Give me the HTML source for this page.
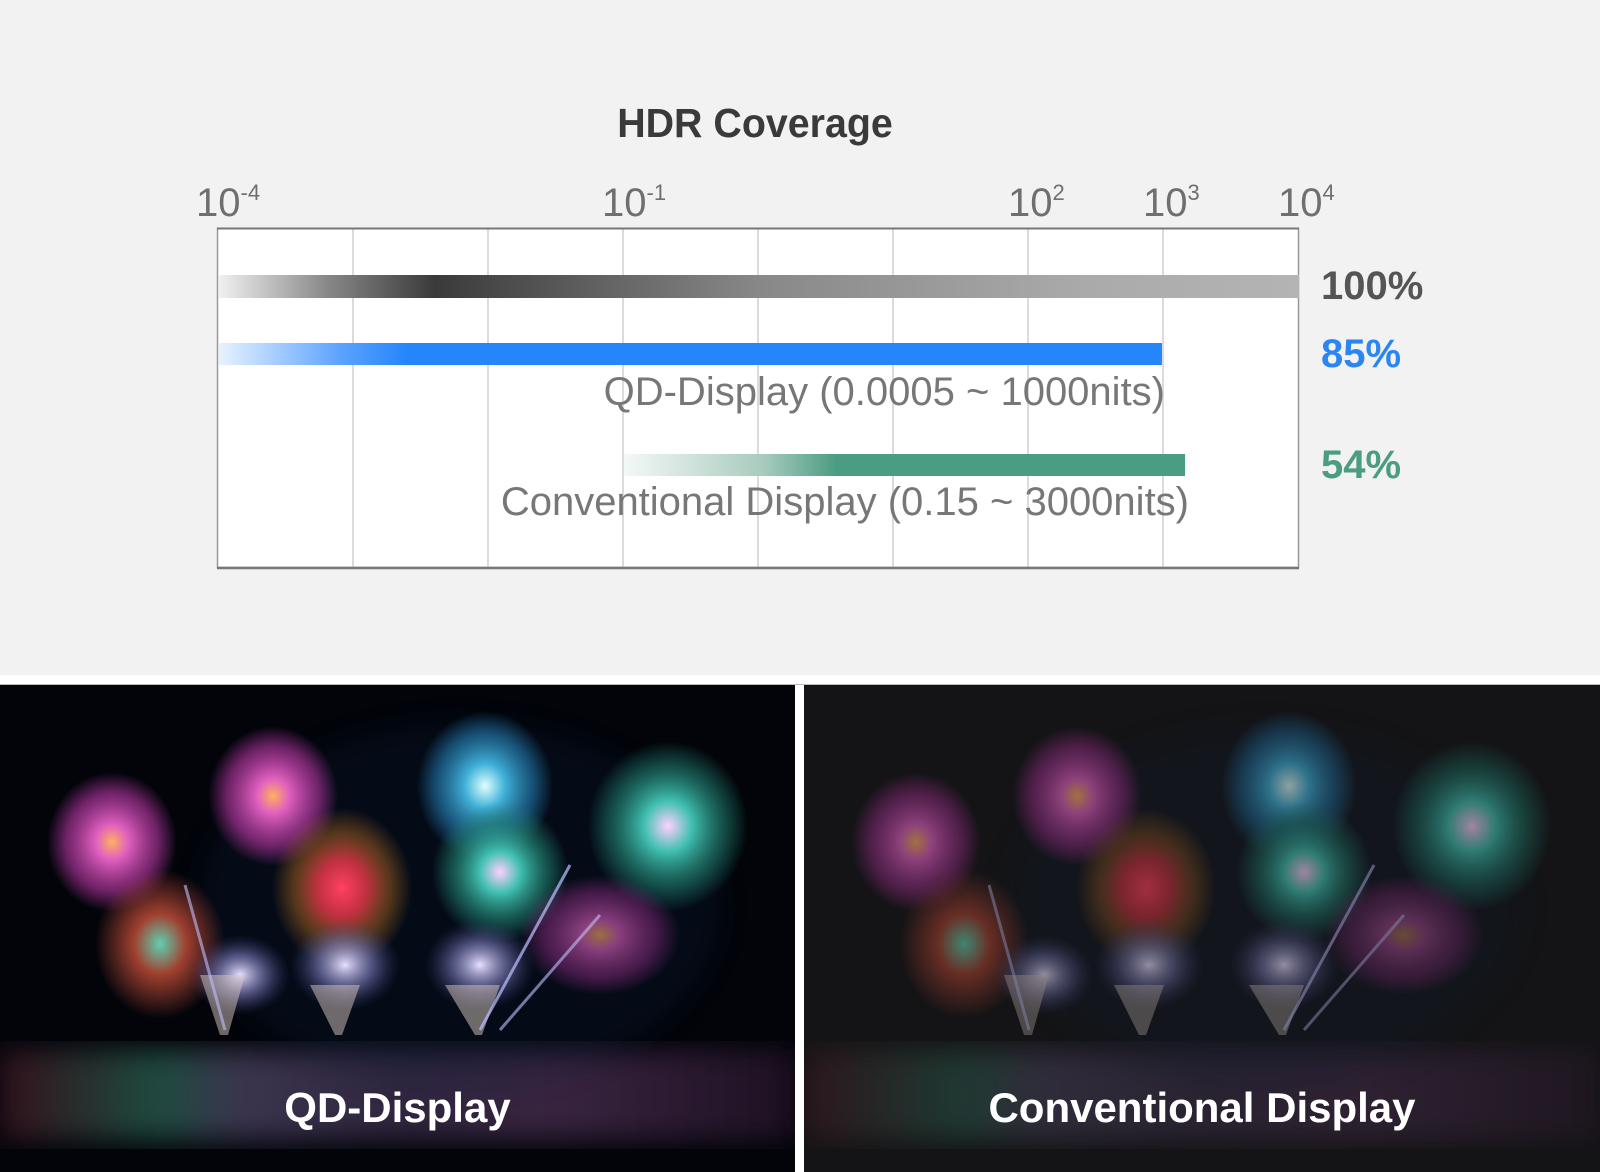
<!DOCTYPE html>
<html><head><meta charset="utf-8"><style>
html,body{margin:0;padding:0;}
body{width:1600px;height:1172px;background:#f2f2f2;position:relative;overflow:hidden;font-family:"Liberation Sans","DejaVu Sans",sans-serif;}
.t{position:absolute;white-space:nowrap;}
</style></head><body>
<div class="t" style="left:0;width:1510px;text-align:center;top:100px;font-size:41px;font-weight:bold;color:#3a3a3a;transform:scaleX(0.96);transform-origin:755px 0;">HDR Coverage</div>

<svg style="position:absolute;left:0;top:0" width="1600" height="680">
<defs>
<linearGradient id="gg" x1="0" x2="1"><stop offset="0" stop-color="#f0f0f0"/><stop offset="0.1" stop-color="#888"/><stop offset="0.2" stop-color="#3a3a3a"/><stop offset="0.5" stop-color="#888"/><stop offset="0.8" stop-color="#aaa"/><stop offset="1" stop-color="#b4b4b4"/></linearGradient>
<linearGradient id="bg" x1="0" x2="1"><stop offset="0" stop-color="#e8f2ff"/><stop offset="0.13" stop-color="#5aa2ff"/><stop offset="0.2" stop-color="#2585fb"/><stop offset="1" stop-color="#2585fb"/></linearGradient>
<linearGradient id="ng" x1="0" x2="1"><stop offset="0" stop-color="#f4f8f6"/><stop offset="0.25" stop-color="#a6cbbd"/><stop offset="0.38" stop-color="#4a9c82"/><stop offset="1" stop-color="#4a9c82"/></linearGradient>
</defs>
<rect x="218" y="229" width="1081" height="339" fill="#fff"/>
<g stroke="#cfcfcf" stroke-width="1.5">
<line x1="353" y1="229" x2="353" y2="567"/><line x1="488" y1="229" x2="488" y2="567"/><line x1="623" y1="229" x2="623" y2="567"/><line x1="758" y1="229" x2="758" y2="567"/><line x1="893" y1="229" x2="893" y2="567"/><line x1="1028" y1="229" x2="1028" y2="567"/><line x1="1163" y1="229" x2="1163" y2="567"/>
</g>
<rect x="217.5" y="228.5" width="1081" height="339" fill="none" stroke="#999" stroke-width="1.5"/>
<line x1="217" y1="228.5" x2="1299" y2="228.5" stroke="#777" stroke-width="2"/>
<line x1="217" y1="568" x2="1299" y2="568" stroke="#777" stroke-width="2.5"/>
<rect x="219" y="275" width="1080" height="23" fill="url(#gg)"/>
<rect x="219" y="343" width="943" height="22" fill="url(#bg)"/>
<rect x="624" y="454" width="561" height="22" fill="url(#ng)"/>
</svg>

<div class="t" style="left:196px;top:180px;font-size:40px;color:#6f6f6f;">10<sup style="font-size:22px;vertical-align:16px">-4</sup></div>
<div class="t" style="left:602px;top:180px;font-size:40px;color:#6f6f6f;">10<sup style="font-size:22px;vertical-align:16px">-1</sup></div>
<div class="t" style="left:1008px;top:180px;font-size:40px;color:#6f6f6f;">10<sup style="font-size:22px;vertical-align:16px">2</sup></div>
<div class="t" style="left:1143px;top:180px;font-size:40px;color:#6f6f6f;">10<sup style="font-size:22px;vertical-align:16px">3</sup></div>
<div class="t" style="left:1278px;top:180px;font-size:40px;color:#6f6f6f;">10<sup style="font-size:22px;vertical-align:16px">4</sup></div>

<div class="t" style="left:1321px;top:264px;font-size:40px;font-weight:bold;color:#555;">100%</div>
<div class="t" style="left:1321px;top:332px;font-size:40px;font-weight:bold;color:#2b86f2;">85%</div>
<div class="t" style="left:1321px;top:443px;font-size:40px;font-weight:bold;color:#4a9c82;">54%</div>

<div class="t" style="right:435px;top:370px;font-size:40px;color:#777;">QD-Display (0.0005 ~ 1000nits)</div>
<div class="t" style="right:411px;top:480px;font-size:40px;color:#777;">Conventional Display (0.15 ~ 3000nits)</div>

<div style="position:absolute;left:0;top:675px;width:1600px;height:10px;background:#fff;"></div>
<div style="position:absolute;left:0;top:684px;width:1600px;height:1px;background:#bbb;"></div>

<svg style="position:absolute;left:0;top:685px" width="1600" height="487">
<defs>
<filter id="bl"><feGaussianBlur stdDeviation="14"/></filter>
<radialGradient id="fp"><stop offset="0" stop-color="#ffb060"/><stop offset="0.25" stop-color="#e060c0"/><stop offset="0.7" stop-color="#a03090" stop-opacity="0.7"/><stop offset="1" stop-color="#a03090" stop-opacity="0"/></radialGradient>
<radialGradient id="fb"><stop offset="0" stop-color="#e0ffff"/><stop offset="0.3" stop-color="#40b0d8"/><stop offset="0.7" stop-color="#2070a0" stop-opacity="0.7"/><stop offset="1" stop-color="#2070a0" stop-opacity="0"/></radialGradient>
<radialGradient id="ft"><stop offset="0" stop-color="#ffd0ff"/><stop offset="0.3" stop-color="#40c0b0"/><stop offset="0.7" stop-color="#208070" stop-opacity="0.6"/><stop offset="1" stop-color="#208070" stop-opacity="0"/></radialGradient>
<radialGradient id="fr"><stop offset="0" stop-color="#ff4060"/><stop offset="0.35" stop-color="#c03040"/><stop offset="0.7" stop-color="#a06020" stop-opacity="0.5"/><stop offset="1" stop-color="#a06020" stop-opacity="0"/></radialGradient>
<radialGradient id="fw"><stop offset="0" stop-color="#e8e0ff"/><stop offset="0.5" stop-color="#8080c0" stop-opacity="0.6"/><stop offset="1" stop-color="#404080" stop-opacity="0"/></radialGradient>
<radialGradient id="fm"><stop offset="0" stop-color="#60d0b0"/><stop offset="0.4" stop-color="#a04030"/><stop offset="1" stop-color="#a04030" stop-opacity="0"/></radialGradient>
<linearGradient id="wt" x1="0" x2="1"><stop offset="0" stop-color="#702030"/><stop offset="0.2" stop-color="#40a080"/><stop offset="0.3" stop-color="#8070a0"/><stop offset="0.5" stop-color="#6a5080"/><stop offset="0.7" stop-color="#7a4a80"/><stop offset="1" stop-color="#402040"/></linearGradient>
<g id="scene">
<rect x="0" y="365" width="795" height="90" fill="url(#wt)" opacity="0.45" filter="url(#bl)"/>
<ellipse cx="460" cy="220" rx="260" ry="180" fill="#102040" opacity="0.25" filter="url(#bl)"/>
<ellipse cx="112" cy="157" rx="65" ry="70" fill="url(#fp)"/>
<ellipse cx="273" cy="111" rx="65" ry="70" fill="url(#fp)"/>
<ellipse cx="485" cy="101" rx="68" ry="75" fill="url(#fb)"/>
<ellipse cx="668" cy="141" rx="80" ry="85" fill="url(#ft)"/>
<ellipse cx="342" cy="203" rx="70" ry="80" fill="url(#fr)"/>
<ellipse cx="500" cy="187" rx="68" ry="70" fill="url(#ft)"/>
<ellipse cx="600" cy="250" rx="80" ry="60" fill="url(#fp)" opacity="0.6"/>
<ellipse cx="160" cy="259" rx="65" ry="75" fill="url(#fm)"/>
<ellipse cx="240" cy="290" rx="50" ry="40" fill="url(#fw)"/>
<ellipse cx="345" cy="280" rx="55" ry="45" fill="url(#fw)"/>
<ellipse cx="480" cy="280" rx="55" ry="45" fill="url(#fw)"/>
<polygon points="220,350 200,290 245,290 228,350" fill="#d8c8c0" opacity="0.5"/>
<polygon points="335,350 310,300 360,300 342,350" fill="#d8c8c0" opacity="0.5"/>
<polygon points="475,350 445,300 500,300 482,350" fill="#d8c8c0" opacity="0.5"/>
<line x1="480" y1="345" x2="570" y2="180" stroke="#c0c0ff" stroke-width="3" opacity="0.7"/>
<line x1="500" y1="345" x2="600" y2="230" stroke="#c0c0ff" stroke-width="3" opacity="0.6"/>
<line x1="225" y1="345" x2="185" y2="200" stroke="#c0c0ff" stroke-width="3" opacity="0.6"/>
</g>
</defs>
<rect x="0" y="0" width="795" height="487" fill="#02040a"/>
<use href="#scene"/>
<rect x="804" y="0" width="796" height="487" fill="#141416"/>
<g opacity="0.6"><use href="#scene" x="804"/></g>
<rect x="795" y="0" width="9" height="487" fill="#fff"/>
</svg>

<div class="t" style="left:0;width:795px;text-align:center;top:1084px;font-size:42px;font-weight:bold;color:#fff;">QD-Display</div>
<div class="t" style="left:804px;width:796px;text-align:center;top:1084px;font-size:42px;font-weight:bold;color:#fff;">Conventional Display</div>
</body></html>
